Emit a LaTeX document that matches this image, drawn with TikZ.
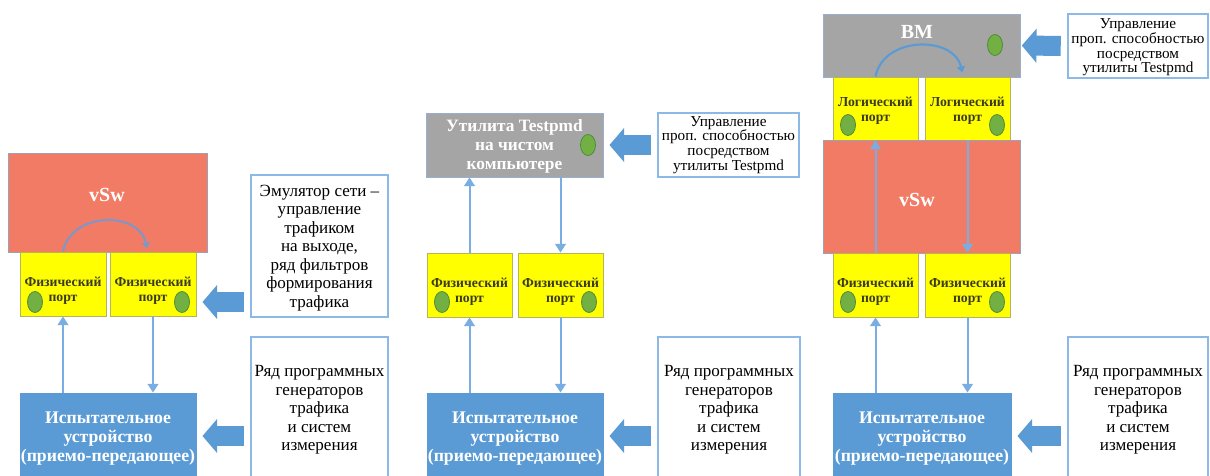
\documentclass[tikz,border=0pt]{standalone}
\usepackage{fontspec}
\setmainfont{Liberation Serif}
\usetikzlibrary{arrows.meta,fit,shapes.geometric}

\definecolor{swred}{HTML}{F27B66}
\definecolor{swedge}{HTML}{9AA3B5}
\definecolor{portyel}{HTML}{FFFF00}
\definecolor{portedge}{HTML}{B4B45A}
\definecolor{porttext}{HTML}{3A3A20}
\definecolor{vmgray}{HTML}{A5A5A5}
\definecolor{vmedge}{HTML}{9AAED0}
\definecolor{devblue}{HTML}{5B9BD5}
\definecolor{noteedge}{HTML}{8DB9E6}
\definecolor{linkblue}{HTML}{7AAEE3}
\definecolor{arcgray}{HTML}{8196C4}
\definecolor{ledgreen}{HTML}{72B044}
\definecolor{lededge}{HTML}{4E8A3A}

\tikzset{
  % frames (drawn empty, their texts are set on top of them)
  swbox/.style={fill=swred, draw=swedge, line width=0.7pt, inner sep=0pt},
  vmbox/.style={fill=vmgray, draw=vmedge, line width=0.7pt, inner sep=0pt},
  portbox/.style={fill=portyel, draw=portedge, line width=0.7pt, inner sep=0pt},
  devbox/.style={fill=devblue, draw=devblue, line width=0.7pt, inner sep=0pt},
  note/.style={fill=white, draw=noteedge, line width=1.9pt, inner sep=0pt},
  % texts
  porttxt/.style={inner sep=0pt, align=center, text=porttext,
    font=\fontsize{10.3}{11.25}\selectfont\bfseries},
  hosttxt/.style={inner sep=0pt, align=center, text=white,
    font=\fontsize{13}{14.25}\selectfont\bfseries},
  devtxt/.style={inner sep=0pt, align=center, text=white,
    font=\fontsize{13.3}{14.25}\selectfont\bfseries},
  notetxt/.style={inner sep=0pt, align=center, font=\fontsize{12.8}{13.9}\selectfont},
  notesmtxt/.style={inner sep=0pt, align=center, font=\fontsize{11.4}{11.1}\selectfont},
  title/.style={text=white, inner sep=0pt, font=\fontsize{15}{16}\selectfont\bfseries},
  % small parts and connectors
  led/.style={ellipse, fill=ledgreen, draw=lededge, line width=0.6pt,
    minimum width=11.25pt, minimum height=15.75pt, inner sep=0pt},
  link/.style={draw=linkblue, line width=1.5pt, -{Triangle[width=8pt,length=6.5pt]}},
  loop/.style={line width=1.6pt, -{Triangle[width=6pt,length=4.5pt]}},
  push/.style={draw=devblue, line width=15pt, -{Triangle[width=25pt,length=11pt]},
    shorten <=4.5pt, shorten >=4.5pt},
}

\begin{document}
\begin{tikzpicture}[x=0.75pt, y=-0.75pt]
  \useasboundingbox (0,0) rectangle (1210,475);
  \fill[white] (0,0) rectangle (1210,475);

  % ---------- left setup: vSw with two physical ports ----------
  \node[swbox, fit={(8,153) (207,252)}] (swL) {};
  \node[title] (swL-t) at (107,195) {vSw};
  \node[portbox, fit={(20,252) (106,316)}] (pL1) {};
  \node[portbox, fit={(110,252) (196,316)}] (pL2) {};
  \node[porttxt, yshift=-5pt] (pL1-t) at (pL1.center) {Физический\\порт};
  \node[porttxt, yshift=-5pt] (pL2-t) at (pL2.center) {Физический\\порт};
  \node[led] (ledL1) at (35,302) {};
  \node[led] (ledL2) at (182,302) {};
  \node[devbox, fit={(20,393) (196,479)}] (devL) {};
  \node[devtxt, yshift=-2pt] (devL-t) at (devL.center) {Испытательное\\устройство\\(приемо-передающее)};
  \node[note, fit={(251,175) (388,317)}] (noteL1) {};
  \node[notetxt] (noteL1-t) at ([yshift=-1.5pt]noteL1.center)
    {Эмулятор сети –\\управление\\трафиком\\на выходе,\\ряд фильтров\\формирования\\трафика};
  \node[note, fit={(251,337) (388,483)}] (noteL2) {};
  \node[notetxt] (noteL2-t) at (noteL2.center)
    {Ряд программных\\генераторов\\трафика\\и систем\\измерения};

  \draw[loop, draw=arcgray] (pL1.north) .. controls +(8,-40) and +(-8,-38) ..
    ([xshift=-4.5pt,yshift=2.25pt]pL2.north);
  \draw[link] (pL1 |- devL.north) -- (pL1.south);
  \draw[link] (pL2.south) -- (pL2 |- devL.north);
  \draw[push] (noteL1.west |- ledL2) -- (pL2.east |- ledL2);
  \draw[push] (noteL2.west |- devL) -- (devL.east);

  % ---------- middle setup: Testpmd on bare host ----------
  \node[vmbox, fit={(426,113) (603,177)}] (hostM) {};
  \node[hosttxt, yshift=-1pt] (hostM-t) at (hostM.center) {Утилита Testpmd\\на чистом\\компьютере};
  \node[led] (ledM0) at (588,145) {};
  \node[portbox, fit={(427,253) (512,317)}] (pM1) {};
  \node[portbox, fit={(518,253) (603,317)}] (pM2) {};
  \node[porttxt, yshift=-5pt] (pM1-t) at (pM1.center) {Физический\\порт};
  \node[porttxt, yshift=-5pt] (pM2-t) at (pM2.center) {Физический\\порт};
  \node[led] (ledM1) at (442,302) {};
  \node[led] (ledM2) at (589,302) {};
  \node[devbox, fit={(427,393) (603,479)}] (devM) {};
  \node[devtxt, yshift=-2pt] (devM-t) at (devM.center) {Испытательное\\устройство\\(приемо-передающее)};
  \node[note, fit={(658,113) (799,177)}] (noteM1) {};
  \node[notesmtxt] (noteM1-t) at (noteM1.center)
    {Управление\\проп. способностью\\посредством\\утилиты Testpmd};
  \node[note, fit={(658,337) (800,483)}] (noteM2) {};
  \node[notetxt] (noteM2-t) at (noteM2.center)
    {Ряд программных\\генераторов\\трафика\\и систем\\измерения};

  \draw[link] (pM1.north) -- (pM1.north |- hostM.south);
  \draw[link] (pM2.north |- hostM.south) -- (pM2.north);
  \draw[link] (pM1 |- devM.north) -- (pM1.south);
  \draw[link] (pM2.south) -- (pM2 |- devM.north);
  \draw[push] (noteM1.west) -- (hostM.east);
  \draw[push] (noteM2.west |- devM) -- (devM.east);

  % ---------- right setup: VM behind vSw ----------
  \node[vmbox, fit={(823,14) (1020,77)}] (vmR) {};
  \node[title] (vmR-t) at (917,32) {ВМ};
  \node[led] (ledR0) at (995,45) {};
  \node[portbox, fit={(833,77) (918,140)}] (lR1) {};
  \node[portbox, fit={(925,77) (1010,140)}] (lR2) {};
  \node[porttxt, yshift=-1.5pt] (lR1-t) at (lR1.center) {Логический\\порт};
  \node[porttxt, yshift=-1.5pt] (lR2-t) at (lR2.center) {Логический\\порт};
  \node[led] (ledR1) at (848,125) {};
  \node[led] (ledR2) at (997,125) {};
  \node[swbox, fit={(823,140) (1020,253)}] (swR) {};
  \node[title] (swR-t) at (917,200) {vSw};
  \node[portbox, fit={(833,253) (918,317)}] (pR1) {};
  \node[portbox, fit={(925,253) (1010,317)}] (pR2) {};
  \node[porttxt, yshift=-5pt] (pR1-t) at (pR1.center) {Физический\\порт};
  \node[porttxt, yshift=-5pt] (pR2-t) at (pR2.center) {Физический\\порт};
  \node[led] (ledR3) at (848,302) {};
  \node[led] (ledR4) at (997,302) {};
  \node[devbox, fit={(833,393) (1011,479)}] (devR) {};
  \node[devtxt, yshift=-2pt] (devR-t) at (devR.center) {Испытательное\\устройство\\(приемо-передающее)};
  \node[note, fit={(1068,14) (1208,78)}] (noteR1) {};
  \node[notesmtxt, yshift=-1pt] (noteR1-t) at (noteR1.center)
    {Управление\\проп. способностью\\посредством\\утилиты Testpmd};
  \node[note, fit={(1068,337) (1208,483)}] (noteR2) {};
  \node[notetxt] (noteR2-t) at (noteR2.center)
    {Ряд программных\\генераторов\\трафика\\и систем\\измерения};

  \draw[loop, draw=devblue] (lR1.north) .. controls +(8,-41) and +(-8,-37) ..
    ([xshift=-4pt,yshift=3pt]lR2.north);
  \draw[link] (pR1.north) -- (lR1.south);
  \draw[link] (lR2.south) -- (pR2.north);
  \draw[link] (pR1 |- devR.north) -- (pR1.south);
  \draw[link] (pR2.south) -- (pR2 |- devR.north);
  \draw[push, shorten >=1pt] (noteR1.west) -- (vmR.east);
  \draw[push] (noteR2.west |- devR) -- (devR.east);
\end{tikzpicture}
\end{document}
